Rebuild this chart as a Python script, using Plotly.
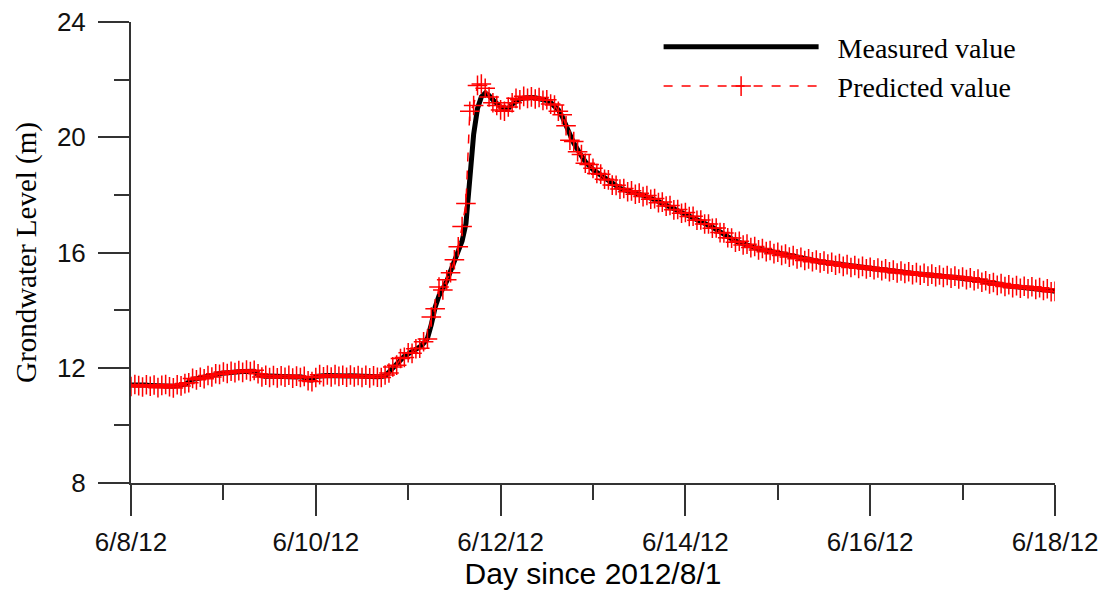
import pandas as pd
import plotly.graph_objects as go

start_time = "2012-06-08 00:00"
n_hours = 241

measured = [
    # 6/8
    11.40, 11.41, 11.40, 11.39, 11.40, 11.38, 11.37, 11.36, 11.37, 11.38, 11.37, 11.36,
    11.38, 11.40, 11.42, 11.50, 11.60, 11.62, 11.64, 11.66, 11.69, 11.72, 11.76, 11.80,
    # 6/9
    11.82, 11.83, 11.84, 11.85, 11.86, 11.87, 11.88, 11.89, 11.88, 11.76, 11.71, 11.70,
    11.71, 11.70, 11.69, 11.70, 11.71, 11.70, 11.69, 11.68, 11.69, 11.66, 11.58, 11.57,
    # 6/10
    11.70, 11.73, 11.72, 11.73, 11.72, 11.72, 11.73, 11.72, 11.71, 11.72, 11.71, 11.70,
    11.71, 11.70, 11.69, 11.70, 11.69, 11.70, 11.72, 11.85, 11.99, 12.12, 12.28, 12.40,
    # 6/11
    12.48, 12.55, 12.61, 12.72, 12.85, 13.02, 13.50, 14.10, 14.50, 14.75, 15.00, 15.35,
    15.70, 16.00, 16.40, 17.00, 18.80, 20.10, 21.00, 21.40, 21.53, 21.45, 21.30, 21.15,
    # 6/12
    21.05, 20.98, 21.00, 21.15, 21.25, 21.32, 21.36, 21.38, 21.38, 21.37, 21.35, 21.33,
    21.27, 21.20, 21.10, 20.95, 20.72, 20.45, 20.10, 19.80, 19.55, 19.35, 19.15, 19.00,
    # 6/13
    18.88, 18.78, 18.68, 18.58, 18.48, 18.38, 18.30, 18.23, 18.18, 18.15, 18.10, 18.06,
    18.02, 17.98, 17.94, 17.89, 17.83, 17.77, 17.71, 17.65, 17.59, 17.52, 17.45, 17.40,
    # 6/14
    17.35, 17.29, 17.22, 17.16, 17.09, 17.03, 16.95, 16.88, 16.81, 16.73, 16.64, 16.55,
    16.46, 16.40, 16.35, 16.30, 16.25, 16.21, 16.17, 16.13, 16.10, 16.07, 16.03, 16.00,
    # 6/15
    15.97, 15.94, 15.91, 15.88, 15.85, 15.82, 15.79, 15.76, 15.74, 15.72, 15.70, 15.68,
    15.66, 15.64, 15.62, 15.60, 15.58, 15.56, 15.54, 15.52, 15.51, 15.49, 15.48, 15.47,
    # 6/16
    15.45, 15.44, 15.42, 15.41, 15.39, 15.37, 15.35, 15.33, 15.32, 15.31, 15.29, 15.27,
    15.26, 15.25, 15.24, 15.22, 15.21, 15.20, 15.18, 15.17, 15.16, 15.15, 15.14, 15.12,
    # 6/17
    15.11, 15.10, 15.08, 15.06, 15.04, 15.01, 14.98, 14.95, 14.92, 14.90, 14.88, 14.86,
    14.84, 14.82, 14.81, 14.80, 14.79, 14.78, 14.77, 14.76, 14.74, 14.72, 14.70, 14.68,
    # 6/18 00:00
    14.65,
]

predicted = [
    # 6/8
    11.35, 11.42, 11.38, 11.33, 11.41, 11.36, 11.40, 11.31, 11.39, 11.42, 11.34, 11.30,
    11.41, 11.37, 11.45, 11.48, 11.63, 11.58, 11.67, 11.62, 11.73, 11.68, 11.79, 11.77,
    # 6/9
    11.85, 11.80, 11.88, 11.83, 11.90, 11.84, 11.92, 11.87, 11.91, 11.79, 11.68, 11.74,
    11.66, 11.73, 11.65, 11.72, 11.67, 11.74, 11.64, 11.71, 11.66, 11.70, 11.55, 11.52,
    # 6/10
    11.66, 11.76, 11.69, 11.75, 11.68, 11.76, 11.70, 11.74, 11.67, 11.75, 11.68, 11.73,
    11.66, 11.74, 11.65, 11.72, 11.67, 11.66, 11.75, 11.82, 12.03, 12.09, 12.32, 12.36,
    # 6/11
    12.52, 12.50, 12.66, 12.68, 12.90, 13.00, 13.76, 14.05, 14.80, 14.70, 15.05, 15.30,
    15.75, 16.20, 16.90, 17.70, 20.90, 21.10, 21.80, 21.85, 21.70, 21.40, 21.20, 21.10,
    # 6/12
    20.95, 20.90, 21.05, 21.20, 21.35, 21.30, 21.42, 21.35, 21.40, 21.33, 21.38, 21.28,
    21.30, 21.15, 21.12, 20.90, 20.78, 20.40, 19.90, 19.85, 19.50, 19.40, 19.10, 19.05,
    # 6/13
    18.92, 18.74, 18.72, 18.54, 18.52, 18.34, 18.33, 18.20, 18.22, 18.11, 18.14, 18.02,
    18.06, 17.94, 17.98, 17.85, 17.87, 17.73, 17.75, 17.61, 17.63, 17.48, 17.49, 17.36,
    # 6/14
    17.39, 17.25, 17.26, 17.12, 17.13, 16.99, 16.99, 16.84, 16.85, 16.69, 16.68, 16.51,
    16.50, 16.36, 16.39, 16.26, 16.29, 16.17, 16.21, 16.09, 16.14, 16.03, 16.07, 15.96,
    # 6/15
    16.01, 15.90, 15.95, 15.84, 15.89, 15.78, 15.83, 15.72, 15.78, 15.68, 15.74, 15.64,
    15.70, 15.60, 15.66, 15.56, 15.62, 15.52, 15.58, 15.48, 15.55, 15.45, 15.52, 15.43,
    # 6/16
    15.49, 15.40, 15.46, 15.37, 15.43, 15.33, 15.39, 15.29, 15.36, 15.27, 15.33, 15.23,
    15.30, 15.21, 15.28, 15.18, 15.25, 15.16, 15.22, 15.13, 15.20, 15.11, 15.18, 15.08,
    # 6/17
    15.15, 15.06, 15.12, 15.02, 15.08, 14.97, 15.02, 14.91, 14.96, 14.86, 14.92, 14.82,
    14.88, 14.78, 14.85, 14.76, 14.83, 14.74, 14.81, 14.72, 14.78, 14.68, 14.74, 14.64,
    # 6/18 00:00
    14.65,
]

x_tick_vals = ["2012-06-08", "2012-06-10", "2012-06-12", "2012-06-14", "2012-06-16", "2012-06-18"]
x_tick_text = ["6/8/12", "6/10/12", "6/12/12", "6/14/12", "6/16/12", "6/18/12"]
y_tick_vals = [8, 12, 16, 20, 24]

times = pd.date_range(start_time, periods=n_hours, freq="h")

pad = "\u00a0\u00a0"
fig = go.Figure()
fig.add_trace(go.Scatter(
    x=times, y=measured, name=pad + "Measured value", mode="lines",
    line=dict(color="black", width=5),
))
fig.add_trace(go.Scatter(
    x=times, y=predicted, name=pad + "Predicted value", mode="lines+markers",
    line=dict(color="red", width=1.5, dash="dash"),
    marker=dict(symbol="cross-thin", size=14, line=dict(color="red", width=1.5), color="red"),
))

axis_color = "#333333"
fig.update_layout(
    width=1106, height=592,
    margin=dict(l=131, r=51, t=22, b=109, autoexpand=False),
    plot_bgcolor="white", paper_bgcolor="white",
    showlegend=True,
    legend=dict(
        x=0.571, y=1.0, xanchor="left", yanchor="top",
        font=dict(family="Liberation Serif", size=28, color="black"),
        bgcolor="rgba(0,0,0,0)", itemwidth=155,
    ),
    xaxis=dict(
        type="date", automargin=False,
        range=["2012-06-08", "2012-06-18"],
        tickvals=x_tick_vals, ticktext=x_tick_text,
        ticks="outside", ticklen=31, tickwidth=2, tickcolor=axis_color,
        showline=True, linecolor=axis_color, linewidth=2,
        showgrid=False, zeroline=False,
        tickfont=dict(family="Liberation Sans", size=26, color="#111111"),
        ticklabelstandoff=4,
        minor=dict(ticks="outside", ticklen=15, tickwidth=2, tickcolor=axis_color,
                   dtick=86400000, tick0="2012-06-08", showgrid=False),
        title=dict(text="Day since 2012/8/1",
                   font=dict(family="Liberation Sans", size=30, color="black"),
                   standoff=2),
    ),
    yaxis=dict(
        range=[8, 24], automargin=False,
        tickvals=y_tick_vals,
        ticks="outside", ticklen=31, tickwidth=2, tickcolor=axis_color,
        showline=True, linecolor=axis_color, linewidth=2,
        showgrid=False, zeroline=False,
        tickfont=dict(family="Liberation Sans", size=26, color="#111111"),
        ticklabelstandoff=7,
        minor=dict(ticks="outside", ticklen=15, tickwidth=2, tickcolor=axis_color,
                   dtick=2, tick0=8, showgrid=False),
        title=dict(text="Grondwater Level (m)",
                   font=dict(family="Liberation Serif", size=29, color="black"),
                   standoff=12),
    ),
)

fig.write_html("out.html", config={"displayModeBar": False},
               post_script="document.body.style.margin='0';")
